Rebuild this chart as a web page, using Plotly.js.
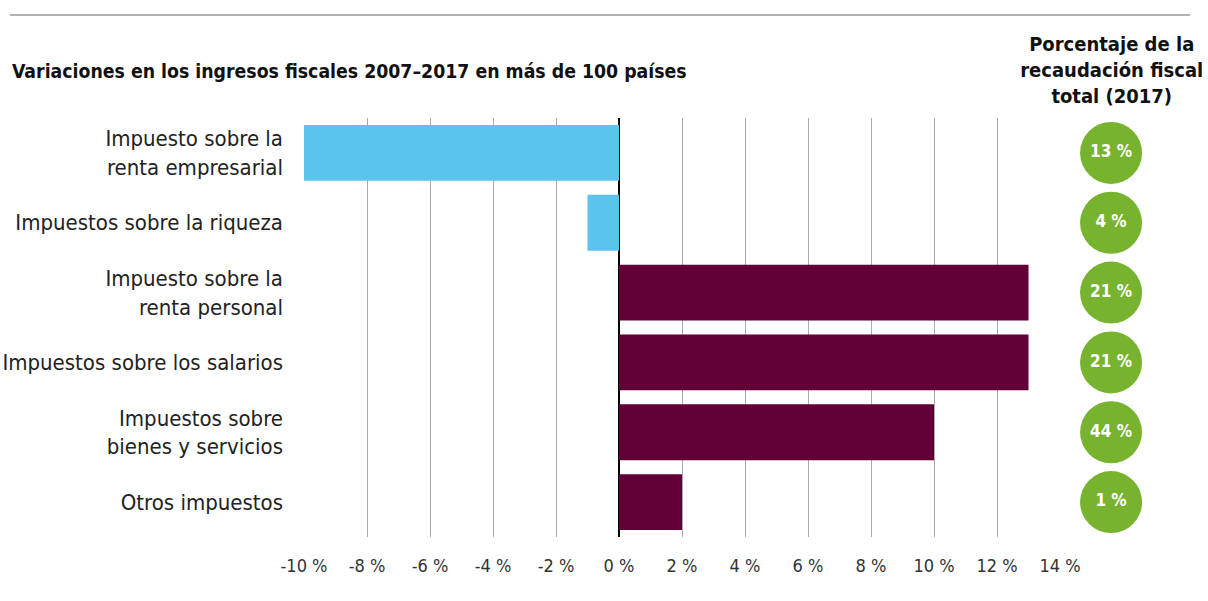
<!DOCTYPE html>
<html><head><meta charset="utf-8">
<script src="https://cdn.plot.ly/plotly-3.0.1.min.js"></script>
<style>body{margin:0;background:#fff}#chart{width:1208px;height:601px}
.main-svg text{font-stretch:condensed !important}</style>
</head><body><div id="chart"></div>
<script>
const categories = [
  "Impuesto sobre la<br>renta empresarial",
  "Impuestos sobre la riqueza",
  "Impuesto sobre la<br>renta personal",
  "Impuestos sobre los salarios",
  "Impuestos sobre<br>bienes y servicios",
  "Otros impuestos"
];
const variation = [-10, -1, 13, 13, 10, 2];
const shareLabels = ["13 %", "4 %", "21 %", "21 %", "44 %", "1 %"];
const tickValues = [-10, -8, -6, -4, -2, 0, 2, 4, 6, 8, 10, 12, 14];
const tickLabels = ["-10 %", "-8 %", "-6 %", "-4 %", "-2 %", "0 %", "2 %", "4 %", "6 %", "8 %", "10 %", "12 %", "14 %"];
const chartTitle = "Variaciones en los ingresos fiscales 2007–2017 en más de 100 países";
const sideTitle = "Porcentaje de la<br>recaudación fiscal<br>total (2017)";

const FONT = "'DejaVu Sans', sans-serif";
const BLUE = "#5BC4EC", MAROON = "#600036", GREEN = "#77B32E";

const bars = {
  type: "bar", orientation: "h",
  x: variation, y: categories,
  marker: {color: variation.map(v => v < 0 ? BLUE : MAROON)},
  width: 0.8, hoverinfo: "none", xaxis: "x", yaxis: "y"
};
const circles = {
  type: "scatter", mode: "markers+text",
  x: categories.map(() => 0.345), y: categories,
  text: shareLabels, textposition: "middle center",
  textfont: {color: "#fff", size: 17, family: FONT, weight: "bold"},
  marker: {size: 62, color: GREEN, line: {width: 0}},
  hoverinfo: "none", xaxis: "x2", yaxis: "y", cliponaxis: false
};

const plotW = 1208 - 304;
const layout = {
  width: 1208, height: 601,
  margin: {l: 304, r: 0, t: 118, b: 64},
  paper_bgcolor: "#fff", plot_bgcolor: "#fff",
  showlegend: false,
  font: {family: FONT, color: "#222"},
  xaxis: {
    domain: [0, (1060 - 304) / plotW],
    range: [-10, 14], tickvals: tickValues, ticktext: tickLabels,
    showgrid: true, gridcolor: "#aaaaaa", gridwidth: 1,
    zeroline: true, zerolinecolor: "#000", zerolinewidth: 2,
    showline: false, ticks: "", ticklabelstandoff: 16,
    tickfont: {size: 18, color: "#333", family: FONT}, fixedrange: true
  },
  xaxis2: {
    domain: [(1060 - 304) / plotW, 1], range: [0, 1], anchor: "y",
    showgrid: false, zeroline: false, showticklabels: false, showline: false
  },
  yaxis: {
    categoryorder: "array", categoryarray: categories,
    range: [5.5, -0.5], autorange: false,
    showgrid: false, zeroline: false, showline: false, ticks: "",
    ticklabelstandoff: 20,
    tickfont: {size: 22, color: "#222", family: FONT}
  },
  shapes: [
    {type: "line", xref: "paper", yref: "paper", x0: (10-304)/plotW, x1: (1190-304)/plotW, y0: 1 + (118-15)/419, y1: 1 + (118-15)/419,
     line: {color: "#999", width: 1.5}}
  ],
  annotations: [
    {text: chartTitle, xref: "paper", yref: "paper", x: (10-304)/plotW, y: 1 + (118-72)/419,
     xanchor: "left", yanchor: "middle", align: "left", showarrow: false,
     font: {size: 19.3, color: "#111", family: FONT, weight: 600}},
    {text: sideTitle, xref: "paper", yref: "paper", x: (1111-304)/plotW, y: 1 + (118-70)/419,
     xanchor: "center", yanchor: "middle", align: "center", showarrow: false,
     font: {size: 20, color: "#111", family: FONT, weight: 600}}
  ]
};
Plotly.newPlot("chart", [bars, circles], layout, {displayModeBar: false, staticPlot: true});
</script></body></html>
